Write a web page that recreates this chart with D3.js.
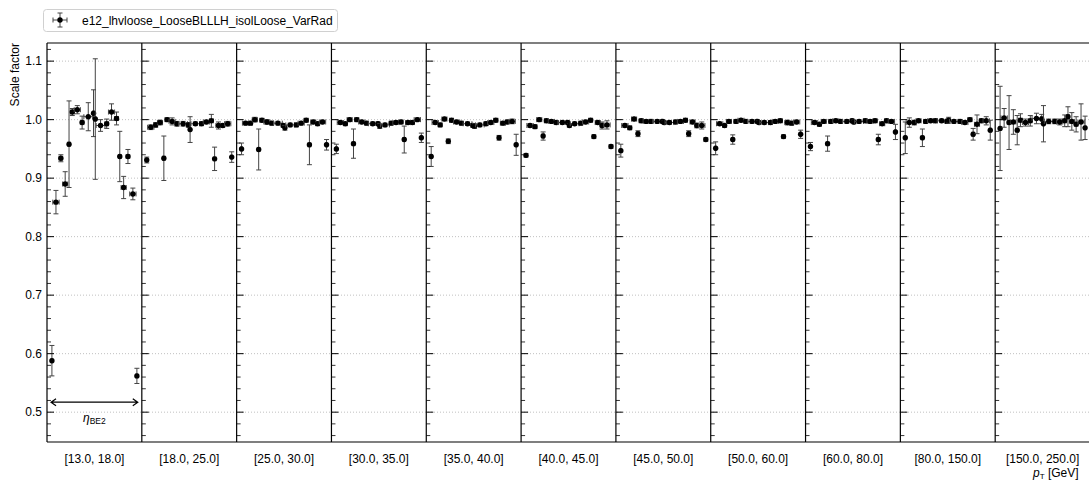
<!DOCTYPE html>
<html>
<head>
<meta charset="UTF-8" />
<title>Scale factor vs pT / eta</title>
<script src="https://cdn.jsdelivr.net/npm/d3@7"></script>
<style>
	body { margin: 0; background: #fff; }
	svg { font-family: "Liberation Sans", Arial, Helvetica, sans-serif; }
</style>
</head>
<body>
<div id="chart"></div>
<script>
// pT bins (one panel each) and eta bin edges inside a panel
var ptBins = ["[13.0, 18.0]", "[18.0, 25.0]", "[25.0, 30.0]", "[30.0, 35.0]", "[35.0, 40.0]",
	"[40.0, 45.0]", "[45.0, 50.0]", "[50.0, 60.0]", "[60.0, 80.0]", "[80.0, 150.0]", "[150.0, 250.0]"];
var etaEdges = [-2.47, -2.37, -2.01, -1.81, -1.52, -1.37, -1.15, -0.8, -0.6, -0.1, 0,
	0.1, 0.6, 0.8, 1.15, 1.37, 1.52, 1.81, 2.01, 2.37, 2.47];

// scale factors, one row per pT bin
var sfValues = [
	[0.588, 0.859, 0.934, 0.890, 0.958, 1.013, 1.017, 0.995, 1.005, 1.011, 1.001, 0.990, 0.993, 1.013, 1.002, 0.937, 0.884, 0.937, 0.873, 0.562],
	[0.931, 0.987, 0.991, 0.995, 0.934, 1.000, 0.997, 0.993, 0.993, 0.991, 0.983, 0.993, 0.993, 0.996, 0.998, 0.933, 0.990, 0.990, 0.993, 0.936],
	[0.950, 0.994, 0.994, 1.000, 0.949, 0.999, 0.996, 0.994, 0.994, 0.990, 0.986, 0.991, 0.991, 0.994, 0.999, 0.957, 0.996, 0.993, 0.996, 0.957],
	[0.950, 0.995, 0.993, 1.000, 0.959, 1.000, 0.996, 0.994, 0.993, 0.993, 0.989, 0.991, 0.994, 0.995, 0.996, 0.966, 0.995, 0.995, 1.000, 0.969],
	[0.937, 0.995, 0.991, 1.001, 0.963, 0.999, 0.996, 0.994, 0.993, 0.990, 0.989, 0.991, 0.993, 0.995, 0.999, 0.969, 0.994, 0.996, 0.997, 0.957],
	[0.939, 0.990, 0.988, 1.000, 0.972, 0.998, 0.997, 0.995, 0.995, 0.995, 0.990, 0.993, 0.994, 0.996, 0.999, 0.971, 0.995, 0.990, 0.991, 0.954],
	[0.947, 0.990, 0.986, 1.001, 0.976, 0.998, 0.997, 0.997, 0.997, 0.997, 0.995, 0.995, 0.996, 0.997, 0.999, 0.976, 0.996, 0.990, 0.990, 0.966],
	[0.951, 0.993, 0.990, 0.997, 0.966, 0.997, 0.999, 0.997, 0.997, 0.997, 0.995, 0.995, 0.995, 0.997, 0.998, 0.971, 0.995, 0.994, 0.996, 0.975],
	[0.954, 0.995, 0.992, 0.997, 0.959, 0.997, 0.998, 0.997, 0.997, 0.998, 0.996, 0.997, 0.998, 0.997, 0.998, 0.966, 0.993, 0.998, 0.997, 0.979],
	[0.969, 0.995, 0.995, 0.998, 0.969, 0.997, 0.998, 0.998, 0.998, 0.997, 0.999, 0.997, 0.997, 0.995, 1.000, 0.975, 0.992, 0.998, 0.998, 0.982],
	[0.985, 1.003, 0.995, 0.996, 0.982, 0.999, 0.995, 0.998, 1.002, 1.001, 0.993, 0.997, 0.997, 0.996, 0.998, 1.005, 0.997, 0.992, 0.996, 0.986]
];
// symmetric uncertainties
var sfErrors = [
	[0.026, 0.020, 0.006, 0.021, 0.074, 0.006, 0.007, 0.011, 0.024, 0.040, 0.103, 0.010, 0.008, 0.014, 0.011, 0.043, 0.019, 0.012, 0.010, 0.013],
	[0.005, 0.004, 0.004, 0.004, 0.038, 0.003, 0.006, 0.004, 0.004, 0.004, 0.022, 0.003, 0.003, 0.003, 0.011, 0.020, 0.006, 0.003, 0.004, 0.009],
	[0.010, 0.003, 0.003, 0.004, 0.035, 0.003, 0.004, 0.003, 0.003, 0.003, 0.004, 0.003, 0.003, 0.003, 0.003, 0.034, 0.003, 0.003, 0.003, 0.009],
	[0.008, 0.003, 0.003, 0.003, 0.025, 0.003, 0.003, 0.003, 0.003, 0.003, 0.004, 0.003, 0.003, 0.003, 0.003, 0.023, 0.003, 0.003, 0.003, 0.008],
	[0.017, 0.003, 0.003, 0.003, 0.004, 0.003, 0.003, 0.003, 0.003, 0.003, 0.004, 0.003, 0.003, 0.003, 0.003, 0.004, 0.003, 0.003, 0.004, 0.018],
	[0.003, 0.003, 0.003, 0.003, 0.007, 0.003, 0.003, 0.003, 0.003, 0.003, 0.003, 0.003, 0.003, 0.003, 0.003, 0.003, 0.003, 0.006, 0.007, 0.003],
	[0.011, 0.003, 0.003, 0.003, 0.005, 0.003, 0.003, 0.003, 0.003, 0.003, 0.003, 0.003, 0.003, 0.003, 0.003, 0.005, 0.003, 0.004, 0.006, 0.003],
	[0.011, 0.003, 0.003, 0.003, 0.008, 0.003, 0.003, 0.003, 0.003, 0.003, 0.003, 0.003, 0.003, 0.003, 0.003, 0.003, 0.004, 0.003, 0.003, 0.007],
	[0.007, 0.003, 0.003, 0.003, 0.013, 0.003, 0.003, 0.003, 0.003, 0.003, 0.003, 0.003, 0.003, 0.003, 0.003, 0.009, 0.003, 0.003, 0.003, 0.013],
	[0.027, 0.008, 0.004, 0.003, 0.015, 0.003, 0.003, 0.003, 0.003, 0.003, 0.005, 0.003, 0.003, 0.003, 0.003, 0.010, 0.016, 0.003, 0.007, 0.017],
	[0.072, 0.016, 0.046, 0.021, 0.025, 0.011, 0.006, 0.009, 0.009, 0.008, 0.031, 0.004, 0.004, 0.005, 0.010, 0.017, 0.015, 0.013, 0.031, 0.020]
];
var yTicks = [0.5, 0.6, 0.7, 0.8, 0.9, 1.0, 1.1];
var legendLabel = "e12_lhvloose_LooseBLLLH_isolLoose_VarRad";

var W = 1089, H = 483;
// plot frame (window.top is reserved, so prefixed names)
var pL = 47, pR = 1090, pT = 43, pB = 442;

var svg = d3.select("#chart").append("svg")
	.attr("width", W).attr("height", H);

var xPanel = d3.scaleBand().domain(ptBins).range([pL, pR]).padding(0);
var xEta = d3.scaleLinear().domain([-2.7, 2.7]).range([0, xPanel.bandwidth()]);
var y = d3.scaleLinear().domain([0.449, 1.131]).range([pB, pT]);

svg.append("clipPath").attr("id", "clip")
	.append("rect").attr("x", pL).attr("y", pT).attr("width", pR - pL).attr("height", pB - pT);

// grid
svg.append("g").selectAll("line").data(yTicks).enter().append("line")
	.attr("x1", pL).attr("x2", pR)
	.attr("y1", function(d) { return y(d); }).attr("y2", function(d) { return y(d); })
	.attr("stroke", "#b0b0b0").attr("stroke-width", 0.8).attr("stroke-dasharray", "1,2");

// points
var bins = d3.range(etaEdges.length - 1).map(function(i) {
	return { c: (etaEdges[i] + etaEdges[i + 1]) / 2, hw: (etaEdges[i + 1] - etaEdges[i]) / 2 };
});
var cap = 2.5;
var col = "#444";

ptBins.forEach(function(pt, p) {
	var x0 = xPanel(pt);
	var g = svg.append("g").attr("clip-path", "url(#clip)")
		.append("g").attr("transform", "translate(" + x0 + ",0)");
	var pts = bins.map(function(b, i) {
		return { x: b.c, xe: b.hw, v: sfValues[p][i], e: sfErrors[p][i] };
	});
	var eb = g.selectAll("g.pt").data(pts).enter().append("g").attr("class", "pt");
	var path = function(d) {
		var cx = xEta(d.x), cy = y(d.v);
		var y1 = y(d.v + d.e), y2 = y(d.v - d.e);
		var x1 = xEta(d.x - d.xe), x2 = xEta(d.x + d.xe);
		return "M" + cx + "," + y1 + "V" + y2 +
			"M" + (cx - cap) + "," + y1 + "H" + (cx + cap) +
			"M" + (cx - cap) + "," + y2 + "H" + (cx + cap) +
			"M" + x1 + "," + cy + "H" + x2 +
			"M" + x1 + "," + (cy - cap) + "V" + (cy + cap) +
			"M" + x2 + "," + (cy - cap) + "V" + (cy + cap);
	};
	eb.append("path").attr("d", path)
		.attr("fill", "none").attr("stroke", col).attr("stroke-width", 1);
	eb.append("circle")
		.attr("cx", function(d) { return xEta(d.x); })
		.attr("cy", function(d) { return y(d.v); })
		.attr("r", 2.7).attr("fill", "#000");

	// left axis of each panel, ticks pointing inward
	var ax = svg.append("g").attr("transform", "translate(" + x0 + ",0)");
	var minor = d3.range(0.46, 1.131, 0.02).filter(function(v) {
		return Math.abs(Math.round(v * 10) - v * 10) > 0.05;
	});
	ax.selectAll("line.mn").data(minor).enter().append("line")
		.attr("x1", 0).attr("x2", 4)
		.attr("y1", function(d) { return y(d); }).attr("y2", function(d) { return y(d); })
		.attr("stroke", "#000").attr("stroke-width", 0.8);
	ax.selectAll("line.mj").data(yTicks).enter().append("line")
		.attr("x1", 0).attr("x2", 7)
		.attr("y1", function(d) { return y(d); }).attr("y2", function(d) { return y(d); })
		.attr("stroke", "#000").attr("stroke-width", 1);
	ax.append("line").attr("x1", 0).attr("x2", 0).attr("y1", pT).attr("y2", pB)
		.attr("stroke", "#000").attr("stroke-width", 1.2);

	svg.append("text")
		.attr("x", x0 + xPanel.bandwidth() / 2).attr("y", 463)
		.attr("text-anchor", "middle").attr("font-size", 12)
		.text(pt);
});

// frame top/bottom
svg.append("line").attr("x1", pL).attr("x2", pR).attr("y1", pT).attr("y2", pT)
	.attr("stroke", "#000").attr("stroke-width", 1.2);
svg.append("line").attr("x1", pL).attr("x2", pR).attr("y1", pB).attr("y2", pB)
	.attr("stroke", "#000").attr("stroke-width", 1.2);

// y tick labels
svg.append("g").selectAll("text").data(yTicks).enter().append("text")
	.attr("x", 42).attr("y", function(d) { return y(d) + 4; })
	.attr("text-anchor", "end").attr("font-size", 12)
	.text(function(d) { return d3.format(".1f")(d); });

svg.append("text")
	.attr("transform", "translate(19," + pT + ") rotate(-90)")
	.attr("text-anchor", "end").attr("font-size", 12)
	.text("Scale factor");

// x label at the bottom right
var xl = svg.append("text").attr("x", 1033).attr("y", 477)
	.attr("font-size", 12);
xl.append("tspan").attr("font-style", "italic").text("p");
xl.append("tspan").attr("font-size", 8).attr("dy", 2).text("T");
xl.append("tspan").attr("dy", -2).text(" [GeV]");

// eta arrow in first panel
var p0 = xPanel(ptBins[0]);
var ay = y(0.517);
var ax1 = p0 + xEta(-2.47), ax2 = p0 + xEta(2.47);
svg.append("path")
	.attr("d", "M" + ax1 + "," + ay + "H" + ax2 +
		"M" + (ax1 + 5) + "," + (ay - 3.5) + "L" + ax1 + "," + ay + "L" + (ax1 + 5) + "," + (ay + 3.5) +
		"M" + (ax2 - 5) + "," + (ay - 3.5) + "L" + ax2 + "," + ay + "L" + (ax2 - 5) + "," + (ay + 3.5))
	.attr("fill", "none").attr("stroke", "#000").attr("stroke-width", 1.2);
var et = svg.append("text").attr("x", p0 + xPanel.bandwidth() / 2).attr("y", 422)
	.attr("text-anchor", "middle").attr("font-size", 12);
et.append("tspan").attr("font-style", "italic").text("η");
et.append("tspan").attr("font-size", 8.5).attr("dy", 2).text("BE2");

// legend
var lg = svg.append("g");
lg.append("rect").attr("x", 43.5).attr("y", 9.5).attr("width", 294).attr("height", 22)
	.attr("rx", 3).attr("fill", "#fff").attr("stroke", "#d0d0d0");
lg.append("path")
	.attr("d", "M53,20H67M53,17.5V22.5M67,17.5V22.5M60,13V27M57.5,13H62.5M57.5,27H62.5")
	.attr("fill", "none").attr("stroke", col).attr("stroke-width", 1);
lg.append("circle").attr("cx", 60).attr("cy", 20).attr("r", 2.7).attr("fill", "#000");
lg.append("text").attr("x", 82).attr("y", 24.5).attr("font-size", 12).text(legendLabel);
</script>
</body>
</html>
